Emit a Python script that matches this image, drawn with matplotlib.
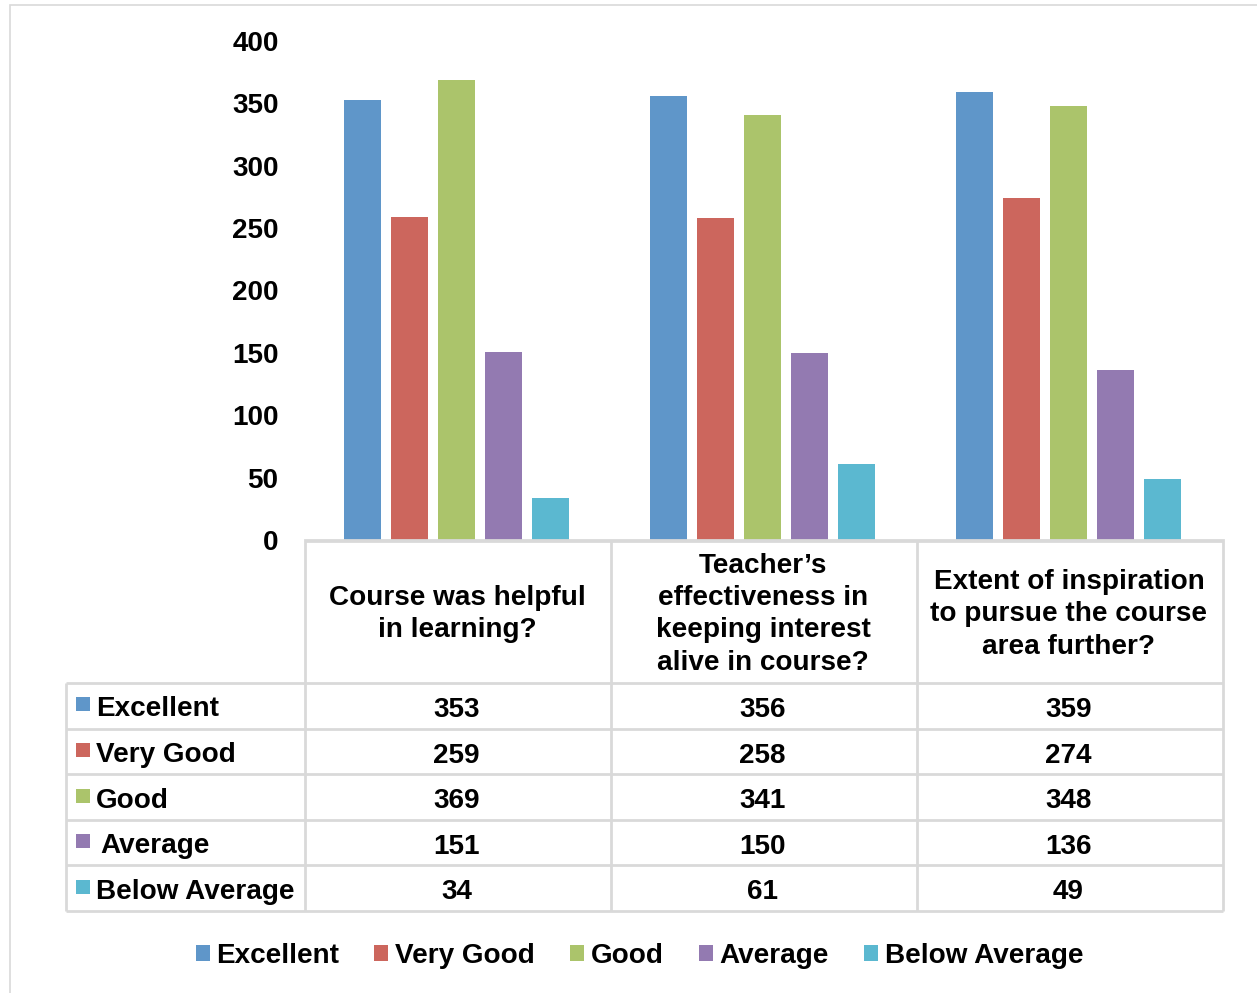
import matplotlib
matplotlib.use('Agg')
import matplotlib.pyplot as plt
from matplotlib.patches import Rectangle, Patch

# ---------------- data ----------------
categories = ["Course was helpful\nin learning?",
              "Teacher\u2019s\neffectiveness in\nkeeping interest\nalive in course?",
              "Extent of inspiration\nto pursue the course\narea further?"]
series_names = ["Excellent", "Very Good", "Good", "Average", "Below Average"]
excellent = [353, 356, 359]
very_good = [259, 258, 274]
good = [369, 341, 348]
average = [151, 150, 136]
below_average = [34, 61, 49]
series_values = [excellent, very_good, good, average, below_average]
y_ticks = [0, 50, 100, 150, 200, 250, 300, 350, 400]
colors = ["#5F96C9", "#CC665D", "#ABC46B", "#937AB1", "#5BB8D0"]

# ---------------- layout helpers ----------------
W, H = 1257, 993
FONT = "Liberation Sans"
FS = 20.1
GRID = "#D9D9D9"


def fx(px):
    return px / W


def fy(py):
    return 1 - py / H


fig = plt.figure(figsize=(W / 100, H / 100), dpi=100)
fig.patch.set_facecolor("white")

# outer chart border (right/bottom edges fall outside the image)
fig.patches.append(Rectangle((fx(10), fy(1000)), fx(1265) - fx(10), (1000 - 5) / H,
                             transform=fig.transFigure, fill=False, ec=GRID, lw=1.2))

# ---------------- bar chart ----------------
ax = fig.add_axes([fx(305), fy(540), fx(1223) - fx(305), (540 - 41) / H])
bar_w = 37 / 306
step = 47 / 306
x = list(range(len(categories)))
for i, (vals, col) in enumerate(zip(series_values, colors)):
    xs = [xi + (i - 2) * step - 1.5 / 306 for xi in x]
    ax.bar(xs, vals, width=bar_w, color=col, edgecolor="none", zorder=2)

ax.set_xlim(-0.5, 2.5)
ax.set_ylim(0, 400)
ax.set_yticks(y_ticks)
ax.set_yticklabels([str(t) for t in y_ticks], fontfamily=FONT, fontweight="bold", fontsize=FS)
ax.tick_params(axis="y", length=0, pad=19)
ax.set_xticks([])
for s in ["top", "right", "left"]:
    ax.spines[s].set_visible(False)
ax.spines["bottom"].set_color(GRID)
ax.spines["bottom"].set_linewidth(2)

# ---------------- data table ----------------
tx0, tx1 = 66, 1223
ty0, ty1 = 541, 911
axt = fig.add_axes([fx(tx0), fy(ty1), fx(tx1) - fx(tx0), (ty1 - ty0) / H])
left_w = (305 - 66) / 306
xmin = -0.5 - left_w
axt.set_xlim(xmin, 2.5)
row_px = (911 - 683) / 5
header_h = (683 - 541) / row_px
total_h = header_h + len(series_names)
axt.set_ylim(total_h, 0)
axt.axis("off")

lkw = dict(color=GRID, lw=2, clip_on=False, solid_capstyle="butt")
# vertical lines
for k in range(len(categories) + 1):
    xv = -0.5 + k
    axt.plot([xv, xv], [0, total_h], **lkw)
axt.plot([xmin, xmin], [header_h, total_h], **lkw)
# horizontal lines
axt.plot([-0.5, 2.5], [0, 0], **lkw)
for r in range(len(series_names) + 1):
    yv = header_h + r
    axt.plot([xmin, 2.5], [yv, yv], **lkw)

tkw = dict(fontfamily=FONT, fontweight="bold", fontsize=FS, color="black")
# header text
for j, cat in enumerate(categories):
    axt.text(j - 1 / 306, header_h / 2 + 0.05, cat, ha="center", va="center",
             linespacing=1.32, **tkw)

# row labels and values
mk_w = 14 / 306
mk_h = 14 / row_px
for r, (name, vals, col) in enumerate(zip(series_names, series_values, colors)):
    yc = header_h + r + 0.5
    axt.add_patch(Rectangle((xmin + 10 / 306, yc - 0.03 - mk_h / 2), mk_w, mk_h,
                            facecolor=col, edgecolor="none", clip_on=False))
    xoff = 34 / 306 if name == "Average" else 30 / 306
    axt.text(xmin + xoff, yc + 0.08, name, ha="left", va="center", **tkw)
    for j, v in enumerate(vals):
        axt.text(j - 1.5 / 306, yc + 0.09, str(v), ha="center", va="center", **tkw)

# ---------------- legend ----------------
handles = [Patch(facecolor=c, edgecolor="none") for c in colors]
fig.legend(handles, series_names, loc="center", bbox_to_anchor=(fx(639.5), fy(956)),
           ncol=5, frameon=False, handlelength=0.5, handleheight=0.5,
           handletextpad=0.25, columnspacing=1.25,
           prop=dict(family=FONT, weight="bold", size=FS))

fig.savefig("out.png", dpi=100, facecolor="white")
